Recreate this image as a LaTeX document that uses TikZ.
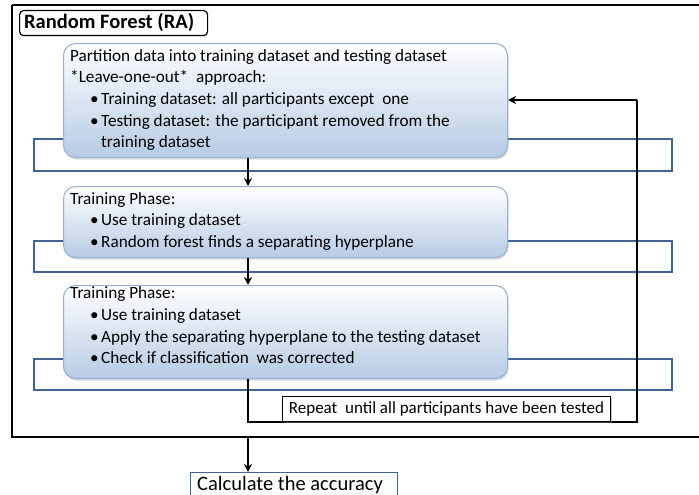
\documentclass[tikz,border=0pt]{standalone}
\usepackage{fontspec}
\setmainfont{Carlito}
\usetikzlibrary{arrows.meta,shadows,positioning}
\definecolor{loopblue}{RGB}{66,100,146}
\definecolor{boxedge}{RGB}{150,178,214}
\definecolor{boxbottom}{RGB}{182,203,228}
\tikzset{
  x=1pt, y=1pt,
  stepbox/.style={draw=boxedge, line width=1pt, rounded corners=12pt,
    top color=white, bottom color=boxbottom, anchor=north west,
    inner sep=0pt,
    drop shadow={shadow xshift=1pt, shadow yshift=-2pt, opacity=0.25, fill=black!60}},
  bandrect/.style={draw=loopblue, line width=2.6pt},
  steptext/.style={anchor=north west, inner sep=0pt, align=left,
    font=\fontsize{17.2}{21.7}\selectfont},
  flow/.style={line width=1.4pt, -{Stealth[length=8pt,width=8pt]}},
  flowline/.style={line width=1.4pt},
}
\newcommand{\bul}{\hspace*{20pt}\makebox[11pt][l]{•}}
\newcommand{\ind}{\hspace*{31pt}}
\begin{document}
\begin{tikzpicture}
\useasboundingbox (0,0) rectangle (699,-495);
% outer frame and title
\draw[line width=1.3pt] (12,-5) -- (720,-5) (12,-5) -- (12,-437) -- (720,-437);
\node[draw, line width=1.2pt, rounded corners=4pt, anchor=north west,
  minimum width=188pt, minimum height=25pt, inner sep=0pt] (title) at (19,-10) {};
\node[anchor=west, inner sep=0pt, font=\fontsize{20.5}{22}\selectfont\bfseries]
  (titletext) at (24,-22.5) {Random Forest (RA)};
% bands behind the steps
\draw[bandrect] (34,-139) rectangle (672,-171);
\draw[bandrect] (34,-241) rectangle (672,-272);
\draw[bandrect] (34,-359) rectangle (672,-390);
% step boxes
\node[stepbox, minimum width=444pt, minimum height=114pt] (box1) at (63,-43) {};
\node[stepbox, minimum width=444pt, minimum height=71pt] (box2) at (63,-186) {};
\node[stepbox, minimum width=444pt, minimum height=93pt] (box3) at (63,-285) {};
\node[steptext] (t1) at (70,-49) {Partition data into training dataset and testing dataset\\
  *Leave-one-out*\ \ approach:\\
  \bul Training dataset: all participants except\ \ one\\
  \bul Testing dataset: the participant removed from the\\
  \ind training dataset};
\node[steptext] (t2) at (70,-192) {Training Phase:\\
  \bul Use training dataset\\
  \bul Random forest finds a separating hyperplane};
\node[steptext] (t3) at (70,-286.5) {Training Phase:\\
  \bul Use training dataset\\
  \bul Apply the separating hyperplane to the testing dataset\\
  \bul Check if classification\ \ was corrected};
% axis of the flow and loop corners
\coordinate (axis) at (248,0);
\coordinate (loopA) at (248,-422);
\coordinate (loopB) at (637,-422);
\coordinate (loopC) at (637,-100);
\coordinate (frameout) at (248,-437);
\draw[flow] (box1.south -| axis) -- (box2.north -| axis);
\draw[flow] (box2.south -| axis) -- (box3.north -| axis);
\draw[flowline] (box3.south -| axis) -- (loopA) -- (loopB) -- (loopC);
\draw[flow] (loopC) -- (box1.east |- loopC);
% repeat note
\node[draw, fill=white, line width=0.9pt, anchor=south west, minimum width=328pt,
  minimum height=25pt, inner sep=0pt, font=\fontsize{17}{18}\selectfont,
  drop shadow={shadow xshift=1.5pt, shadow yshift=-1.5pt, opacity=0.5, fill=black!50}]
  (repeat) at (282,-422) {Repeat\ \ until all participants have been tested};
% final step
\node[draw=loopblue, line width=1.4pt, anchor=north west, minimum width=207pt,
  minimum height=30pt, inner sep=0pt] (calc) at (190,-472) {};
\node[anchor=base west, inner sep=0pt, font=\fontsize{20.5}{22}\selectfont]
  (calctext) at (197,-490) {Calculate the accuracy};
\draw[flow] (frameout) -- (calc.north -| axis);
\end{tikzpicture}
\end{document}
